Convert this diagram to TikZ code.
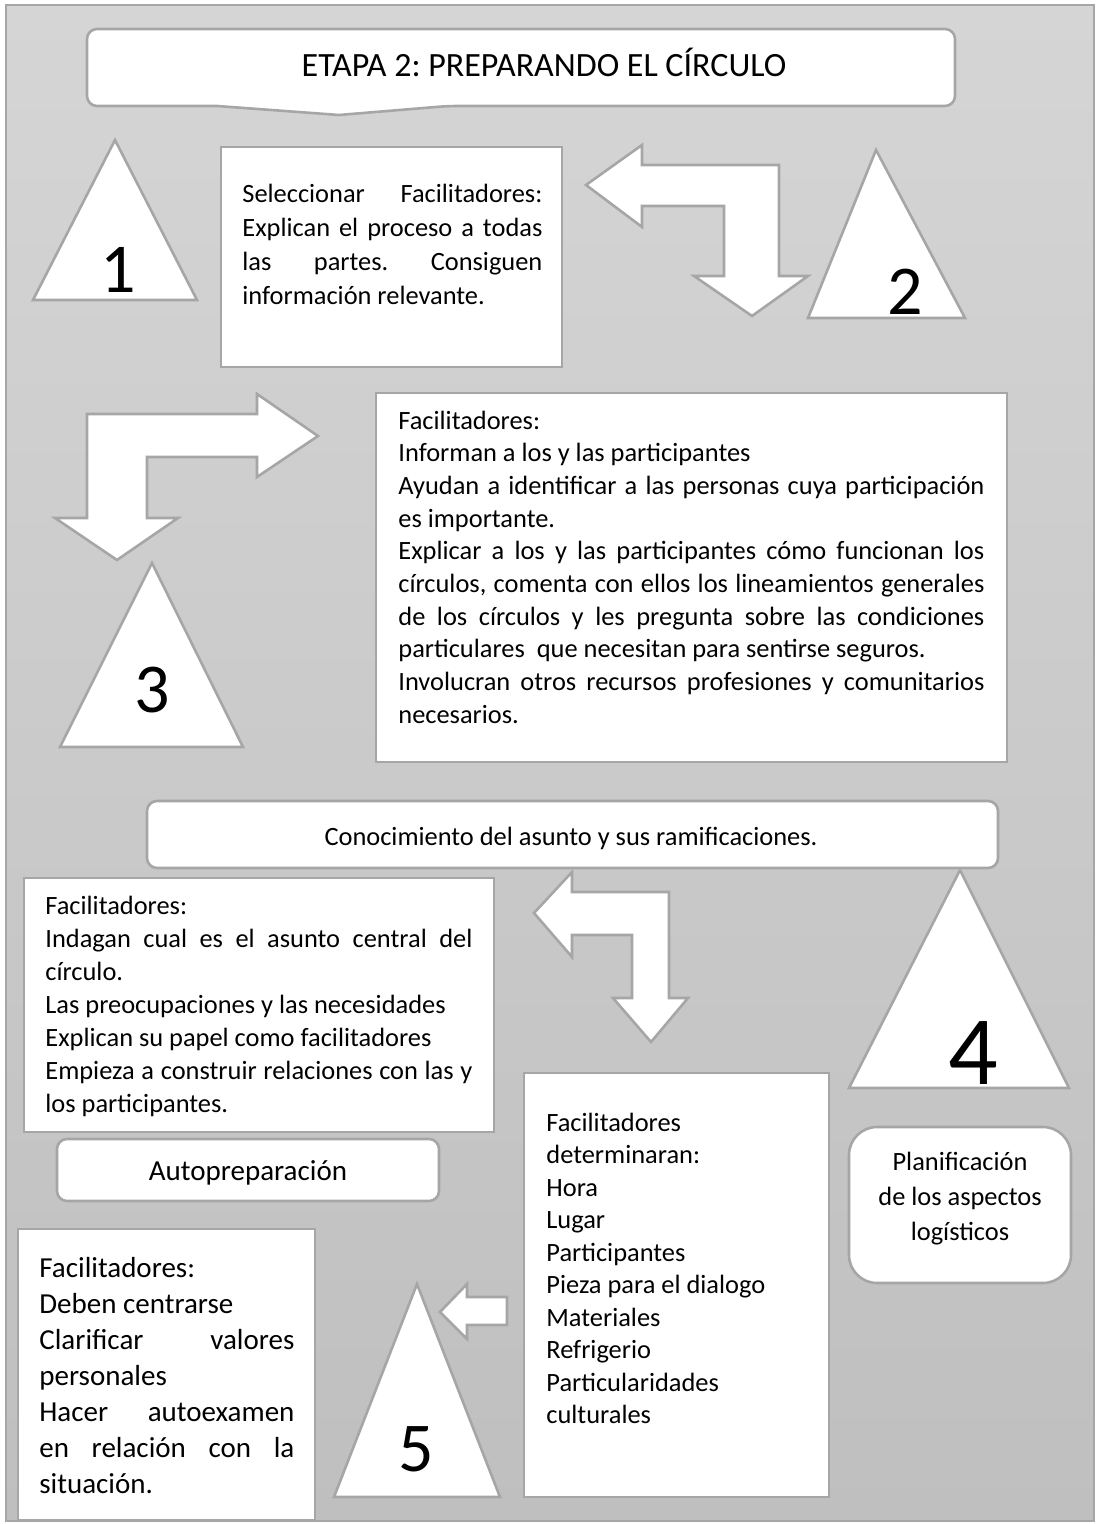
\documentclass[tikz,border=0pt]{standalone}
\usepackage{fontspec}
\setmainfont{Carlito}
\definecolor{lineg}{HTML}{A6A6A6}
\definecolor{bgtop}{HTML}{D5D5D5}
\definecolor{bgbot}{HTML}{BFBFBF}
\hyphenpenalty=10000
\frenchspacing
\begin{document}
\begin{tikzpicture}[x=0.5pt,y=-0.5pt,
    panel/.style={draw=lineg, line width=1.3pt, fill=white},
    body/.style={font=\fontsize{13.2}{16.5}\selectfont, inner sep=0pt, anchor=base west, align=justify},
    num/.style={font=\fontsize{35}{40}\selectfont, inner sep=0pt}]
  \useasboundingbox (0,0) rectangle (1096,1524);
  \shade[top color=bgtop, bottom color=bgbot, draw=lineg, line width=1pt] (6,5) rectangle (1094,1521);
  % title callout
  \draw[panel, rounded corners=5pt] (217,106) -- (87,106) -- (87,29) -- (955,29) -- (955,106) -- (448,106) [sharp corners] -- (339,115) -- cycle;
  \node[font=\fontsize{17}{20}\selectfont, anchor=base] (title) at (544,77) {ETAPA 2: PREPARANDO EL CÍRCULO};
  % triangles and their numbers
  \foreach \ax/\ay/\bl/\br/\by in {115/140/33/197/300, 876/150/808/965/318, 152/563/60/243/747, 960/870/849/1069/1088, 417/1284/334/500/1497}
    \draw[panel] (\ax,\ay) -- (\bl,\by) -- (\br,\by) -- cycle;
  \node[num] (n1) at (118,270) {1};
  \node[num] (n2) at (905,292) {2};
  \node[num] (n3) at (152,690) {3};
  \node[num, font=\fontsize{49}{54}\selectfont] (n4) at (973,1053) {4};
  \node[num] (n5) at (416,1449) {5};
  % block arrows
  \draw[panel] (586,185) -- (642,145) -- (642,165) -- (779,165) -- (779,276) -- (808,276) -- (752,316) -- (694,276) -- (724,276) -- (724,206) -- (642,206) -- (642,227) -- cycle;
  \draw[panel] (318,436) -- (257,394) -- (257,414) -- (87,414) -- (87,518) -- (55,518) -- (117,560) -- (178,518) -- (147,518) -- (147,457) -- (257,457) -- (257,477) -- cycle;
  \draw[panel] (534,913) -- (572,872) -- (572,892) -- (669,892) -- (669,998) -- (688,998) -- (651,1042) -- (613,998) -- (632,998) -- (632,935) -- (572,935) -- (572,957) -- cycle;
  \draw[panel] (440,1312) -- (467,1284) -- (467,1297) -- (507,1297) -- (507,1325) -- (467,1325) -- (467,1339) -- cycle;
  % boxes
  \draw[panel] (221,147) rectangle (562,367);
  \node[body, font=\fontsize{13.2}{17}\selectfont, text width=150pt] (sel) at (242,203) {Seleccionar Facilitadores:\linebreak Explican el proceso a todas\linebreak las partes. Consiguen\linebreak información relevante.};
  \draw[panel] (376,393) rectangle (1007,762);
  \node[body, font=\fontsize{13.2}{16.35}\selectfont, text width=293pt] (inf) at (398,429) {Facilitadores:\\ Informan a los y las participantes\\ Ayudan a identificar a las personas cuya participación\linebreak es importante.\\ Explicar a los y las participantes cómo funcionan los\linebreak círculos, comenta con ellos los lineamientos generales\linebreak de los círculos y les pregunta sobre las condiciones\linebreak particulares~ que necesitan para sentirse seguros.\\ Involucran otros recursos profesiones y comunitarios\linebreak necesarios.};
  \draw[panel, rounded corners=5pt] (147,801) rectangle (998,868);
  \node[body, anchor=base] (conoc) at (571,845) {Conocimiento del asunto y sus ramificaciones.};
  \draw[panel] (24,878) rectangle (494,1132);
  \node[body, text width=213.5pt] (ind) at (45,914) {Facilitadores:\\ Indagan cual es el asunto central del\linebreak círculo.\\ Las preocupaciones y las necesidades\\ Explican su papel como facilitadores\\ Empieza a construir relaciones con las y\linebreak los participantes.};
  \draw[panel, rounded corners=5pt] (57,1139) rectangle (439,1201);
  \node[body, font=\fontsize{14.5}{17}\selectfont, anchor=base] (auto) at (248,1180) {Autopreparación};
  \draw[panel] (524,1073) rectangle (829,1497);
  \node[body, font=\fontsize{13.2}{16.25}\selectfont, align=flush left, text width=140pt] (det) at (546,1131) {Facilitadores\\ determinaran:\\ Hora\\ Lugar\\ Participantes\\ Pieza para el dialogo\\ Materiales\\ Refrigerio\\ Particularidades\\ culturales};
  \draw[panel, rounded corners=14pt] (849,1127) rectangle (1071,1283);
  \node[body, font=\fontsize{13.2}{17.5}\selectfont, align=flush center, anchor=base, text width=100pt] (plan) at (960,1170) {Planificación\\ de los aspectos\\ logísticos};
  \draw[panel] (18,1229) rectangle (315,1520);
  \node[body, font=\fontsize{14.5}{18}\selectfont, text width=127.5pt] (deb) at (39,1277) {Facilitadores:\\ Deben centrarse\\ Clarificar valores\linebreak personales\\ Hacer autoexamen\linebreak en relación con la\linebreak situación.};
\end{tikzpicture}
\end{document}
